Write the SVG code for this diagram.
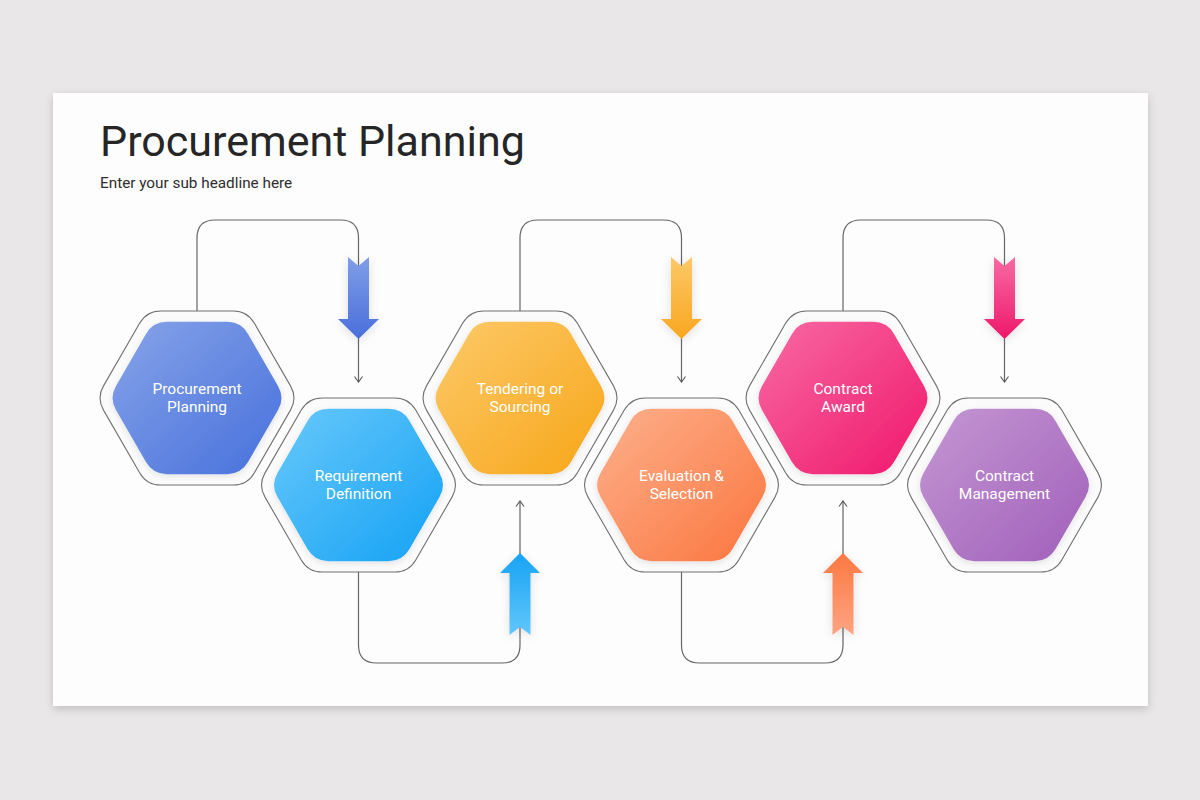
<svg xmlns="http://www.w3.org/2000/svg" xmlns:xlink="http://www.w3.org/1999/xlink" width="1200" height="800" viewBox="0 0 1200 800">
<style>
.lbl{font-family:Roboto,"Liberation Sans",sans-serif;font-size:15.5px;fill:#ffffff;text-anchor:middle}
.outer{fill:#fbfbfb;stroke:#707070;stroke-width:1.1}
.conn{fill:none;stroke:#666666;stroke-width:1.2}
</style>
<defs>
<filter id="cardShadow" x="-5%" y="-5%" width="110%" height="115%">
<feDropShadow dx="0" dy="3" stdDeviation="4" flood-color="#000" flood-opacity="0.18"/>
</filter>
<filter id="soft" x="-40%" y="-30%" width="180%" height="160%">
<feDropShadow dx="0" dy="2" stdDeviation="5" flood-color="#000" flood-opacity="0.12"/>
</filter>
<filter id="hexShadow" x="-10%" y="-10%" width="120%" height="125%">
<feDropShadow dx="0" dy="2" stdDeviation="3" flood-color="#000" flood-opacity="0.10"/>
</filter>
<path id="outerHex" d="M93.5,-12.12 Q100.5,0 93.5,12.12 L57.25,74.92 Q50.25,87.04 36.25,87.04 L-36.25,87.04 Q-50.25,87.04 -57.25,74.92 L-93.5,12.12 Q-100.5,0 -93.5,-12.12 L-57.25,-74.92 Q-50.25,-87.04 -36.25,-87.04 L36.25,-87.04 Q50.25,-87.04 57.25,-74.92 Z"/>
<path id="innerHex" d="M81,-12.12 Q88,0 81,12.12 L51,64.09 Q44,76.21 30,76.21 L-30,76.21 Q-44,76.21 -51,64.09 L-81,12.12 Q-88,0 -81,-12.12 L-51,-64.09 Q-44,-76.21 -30,-76.21 L30,-76.21 Q44,-76.21 51,-64.09 Z"/>
<path id="downArrow" d="M-10.5,0 L0,9 L10.5,0 L10.5,62 L20.5,62 L0,82 L-20.5,62 L-10.5,62 Z"/>
<path id="upArrow" d="M0,0 L20,20 L10.5,20 L10.5,82 L0,74 L-10.5,82 L-10.5,20 L-20,20 Z"/>
<linearGradient id="gBlue" x1="0" y1="0" x2="1" y2="1"><stop offset="0" stop-color="#87a3e8"/><stop offset="1" stop-color="#4670dc"/></linearGradient>
<linearGradient id="gSky" x1="0" y1="0" x2="1" y2="1"><stop offset="0" stop-color="#68c8fb"/><stop offset="1" stop-color="#14a2f4"/></linearGradient>
<linearGradient id="gYellow" x1="0" y1="0" x2="1" y2="1"><stop offset="0" stop-color="#fcc969"/><stop offset="1" stop-color="#f8a618"/></linearGradient>
<linearGradient id="gOrange" x1="0" y1="0" x2="1" y2="1"><stop offset="0" stop-color="#fdb08c"/><stop offset="1" stop-color="#fb763f"/></linearGradient>
<linearGradient id="gPink" x1="0" y1="0" x2="1" y2="1"><stop offset="0" stop-color="#f86aa4"/><stop offset="1" stop-color="#f0176c"/></linearGradient>
<linearGradient id="gPurple" x1="0" y1="0" x2="1" y2="1"><stop offset="0" stop-color="#c597d3"/><stop offset="1" stop-color="#a05fba"/></linearGradient>
<linearGradient id="aBlue" x1="0" y1="0" x2="0" y2="1"><stop offset="0" stop-color="#7f9de7"/><stop offset="1" stop-color="#4a6fdb"/></linearGradient>
<linearGradient id="aYellow" x1="0" y1="0" x2="0" y2="1"><stop offset="0" stop-color="#fcc866"/><stop offset="1" stop-color="#f9a620"/></linearGradient>
<linearGradient id="aPink" x1="0" y1="0" x2="0" y2="1"><stop offset="0" stop-color="#f86aa4"/><stop offset="1" stop-color="#ee186b"/></linearGradient>
<linearGradient id="aSky" x1="0" y1="1" x2="0" y2="0"><stop offset="0" stop-color="#62c6fb"/><stop offset="1" stop-color="#18a3f4"/></linearGradient>
<linearGradient id="aOrange" x1="0" y1="1" x2="0" y2="0"><stop offset="0" stop-color="#fea482"/><stop offset="1" stop-color="#fb7842"/></linearGradient>
<marker id="chev" viewBox="0 0 7 10" refX="6" refY="5" markerWidth="7" markerHeight="10" markerUnits="userSpaceOnUse" orient="auto">
<path d="M0.5,1 L6,5 L0.5,9" fill="none" stroke="#555555" stroke-width="1.1"/>
</marker>
</defs>

<rect x="0" y="0" width="1200" height="800" fill="#e9e7e8"/>
<rect x="53" y="93" width="1095" height="613" fill="#fdfdfd" filter="url(#cardShadow)"/>

<text x="100" y="156" font-family="Roboto,'Liberation Sans',sans-serif" font-size="43" fill="#262626">Procurement Planning</text>
<text x="100" y="188" font-family="Roboto,'Liberation Sans',sans-serif" font-size="15.3" fill="#2e2e2e">Enter your sub headline here</text>

<g id="connectors">
<path class="conn" d="M197,312 V238 Q197,220 215,220 H340.5 Q358.5,220 358.5,238 V382" marker-end="url(#chev)"/>
<path class="conn" d="M520,312 V238 Q520,220 538,220 H663.5 Q681.5,220 681.5,238 V382" marker-end="url(#chev)"/>
<path class="conn" d="M843,312 V238 Q843,220 861,220 H986.5 Q1004.5,220 1004.5,238 V382" marker-end="url(#chev)"/>
<path class="conn" d="M358.5,572 V645 Q358.5,663 376.5,663 H502 Q520,663 520,645 V501" marker-end="url(#chev)"/>
<path class="conn" d="M681.5,572 V645 Q681.5,663 699.5,663 H825 Q843,663 843,645 V501" marker-end="url(#chev)"/>
<use href="#downArrow" transform="translate(358.5,257)" fill="url(#aBlue)" filter="url(#soft)"/>
<use href="#downArrow" transform="translate(681.5,257)" fill="url(#aYellow)" filter="url(#soft)"/>
<use href="#downArrow" transform="translate(1004.5,257)" fill="url(#aPink)" filter="url(#soft)"/>
<use href="#upArrow" transform="translate(520,553)" fill="url(#aSky)" filter="url(#soft)"/>
<use href="#upArrow" transform="translate(843,553)" fill="url(#aOrange)" filter="url(#soft)"/>
</g>

<g id="node-procurement-planning" transform="translate(197,398)">
<use href="#outerHex" class="outer"/>
<use href="#innerHex" fill="url(#gBlue)" filter="url(#hexShadow)"/>
<text class="lbl" x="0" y="-4">Procurement</text>
<text class="lbl" x="0" y="14">Planning</text>
</g>
<g id="node-requirement-definition" transform="translate(358.5,485)">
<use href="#outerHex" class="outer"/>
<use href="#innerHex" fill="url(#gSky)" filter="url(#hexShadow)"/>
<text class="lbl" x="0" y="-4">Requirement</text>
<text class="lbl" x="0" y="14">Definition</text>
</g>
<g id="node-tendering" transform="translate(520,398)">
<use href="#outerHex" class="outer"/>
<use href="#innerHex" fill="url(#gYellow)" filter="url(#hexShadow)"/>
<text class="lbl" x="0" y="-4">Tendering or</text>
<text class="lbl" x="0" y="14">Sourcing</text>
</g>
<g id="node-evaluation" transform="translate(681.5,485)">
<use href="#outerHex" class="outer"/>
<use href="#innerHex" fill="url(#gOrange)" filter="url(#hexShadow)"/>
<text class="lbl" x="0" y="-4">Evaluation &amp;</text>
<text class="lbl" x="0" y="14">Selection</text>
</g>
<g id="node-contract-award" transform="translate(843,398)">
<use href="#outerHex" class="outer"/>
<use href="#innerHex" fill="url(#gPink)" filter="url(#hexShadow)"/>
<text class="lbl" x="0" y="-4">Contract</text>
<text class="lbl" x="0" y="14">Award</text>
</g>
<g id="node-contract-management" transform="translate(1004.5,485)">
<use href="#outerHex" class="outer"/>
<use href="#innerHex" fill="url(#gPurple)" filter="url(#hexShadow)"/>
<text class="lbl" x="0" y="-4">Contract</text>
<text class="lbl" x="0" y="14">Management</text>
</g>
</svg>
